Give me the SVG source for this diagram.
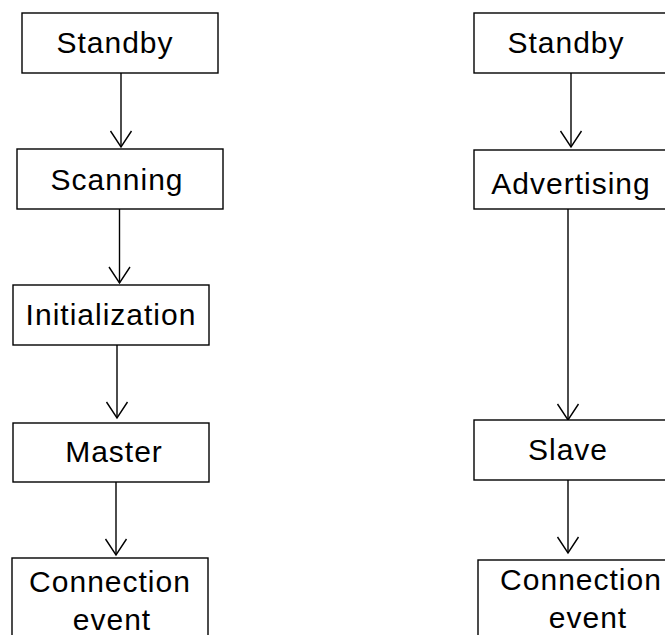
<svg xmlns="http://www.w3.org/2000/svg" width="665" height="635" viewBox="0 0 665 635">
  <style>
    .box { fill: #fff; stroke: #000; stroke-width: 1.4; }
    .lbl { font-family: "Liberation Sans", Arial, sans-serif; font-size: 30px; letter-spacing: 1px; text-anchor: middle; fill: #000; }
    .conn { stroke: #000; stroke-width: 1.4; fill: none; marker-end: url(#vhead); }
  </style>
  <defs>
    <marker id="vhead" markerUnits="userSpaceOnUse" orient="auto" refX="0" refY="0" markerWidth="20" markerHeight="24" viewBox="-18 -12 20 24" overflow="visible">
      <path d="M-16,-10.5 L0,0 L-16,10.5" fill="none" stroke="#000" stroke-width="1.4"/>
    </marker>
  </defs>
  <rect width="665" height="635" fill="#fff"/>

  <g id="connectors">
    <line class="conn" x1="121" y1="73" x2="121" y2="147"/>
    <line class="conn" x1="119.5" y1="209" x2="119.5" y2="283"/>
    <line class="conn" x1="117" y1="345" x2="117" y2="418"/>
    <line class="conn" x1="116" y1="482" x2="116" y2="555"/>
    <line class="conn" x1="571" y1="73" x2="571" y2="147"/>
    <line class="conn" x1="568" y1="209" x2="568" y2="420"/>
    <line class="conn" x1="568" y1="480" x2="568" y2="553"/>
  </g>

  <g id="standby-left">
    <rect class="box" x="22" y="13" width="196" height="60"/>
    <text class="lbl" x="115" y="53">Standby</text>
  </g>
  <g id="scanning">
    <rect class="box" x="17" y="149" width="206" height="60"/>
    <text class="lbl" x="117" y="190">Scanning</text>
  </g>
  <g id="initialization">
    <rect class="box" x="13" y="285" width="196" height="60"/>
    <text class="lbl" x="111" y="325">Initialization</text>
  </g>
  <g id="master">
    <rect class="box" x="13" y="423" width="196" height="59"/>
    <text class="lbl" x="114" y="462">Master</text>
  </g>
  <g id="connection-left">
    <rect class="box" x="12" y="558" width="196" height="100"/>
    <text class="lbl" x="110" y="592">Connection</text>
    <text class="lbl" x="112" y="630">event</text>
  </g>

  <g id="standby-right">
    <rect class="box" x="474" y="13" width="200" height="60"/>
    <text class="lbl" x="566" y="53">Standby</text>
  </g>
  <g id="advertising">
    <rect class="box" x="474" y="150" width="200" height="59"/>
    <text class="lbl" x="571" y="194">Advertising</text>
  </g>
  <g id="slave">
    <rect class="box" x="474" y="420" width="200" height="60"/>
    <text class="lbl" x="568" y="460">Slave</text>
  </g>
  <g id="connection-right">
    <rect class="box" x="478" y="560" width="200" height="100"/>
    <text class="lbl" x="581" y="590">Connection</text>
    <text class="lbl" x="588" y="628">event</text>
  </g>
</svg>
